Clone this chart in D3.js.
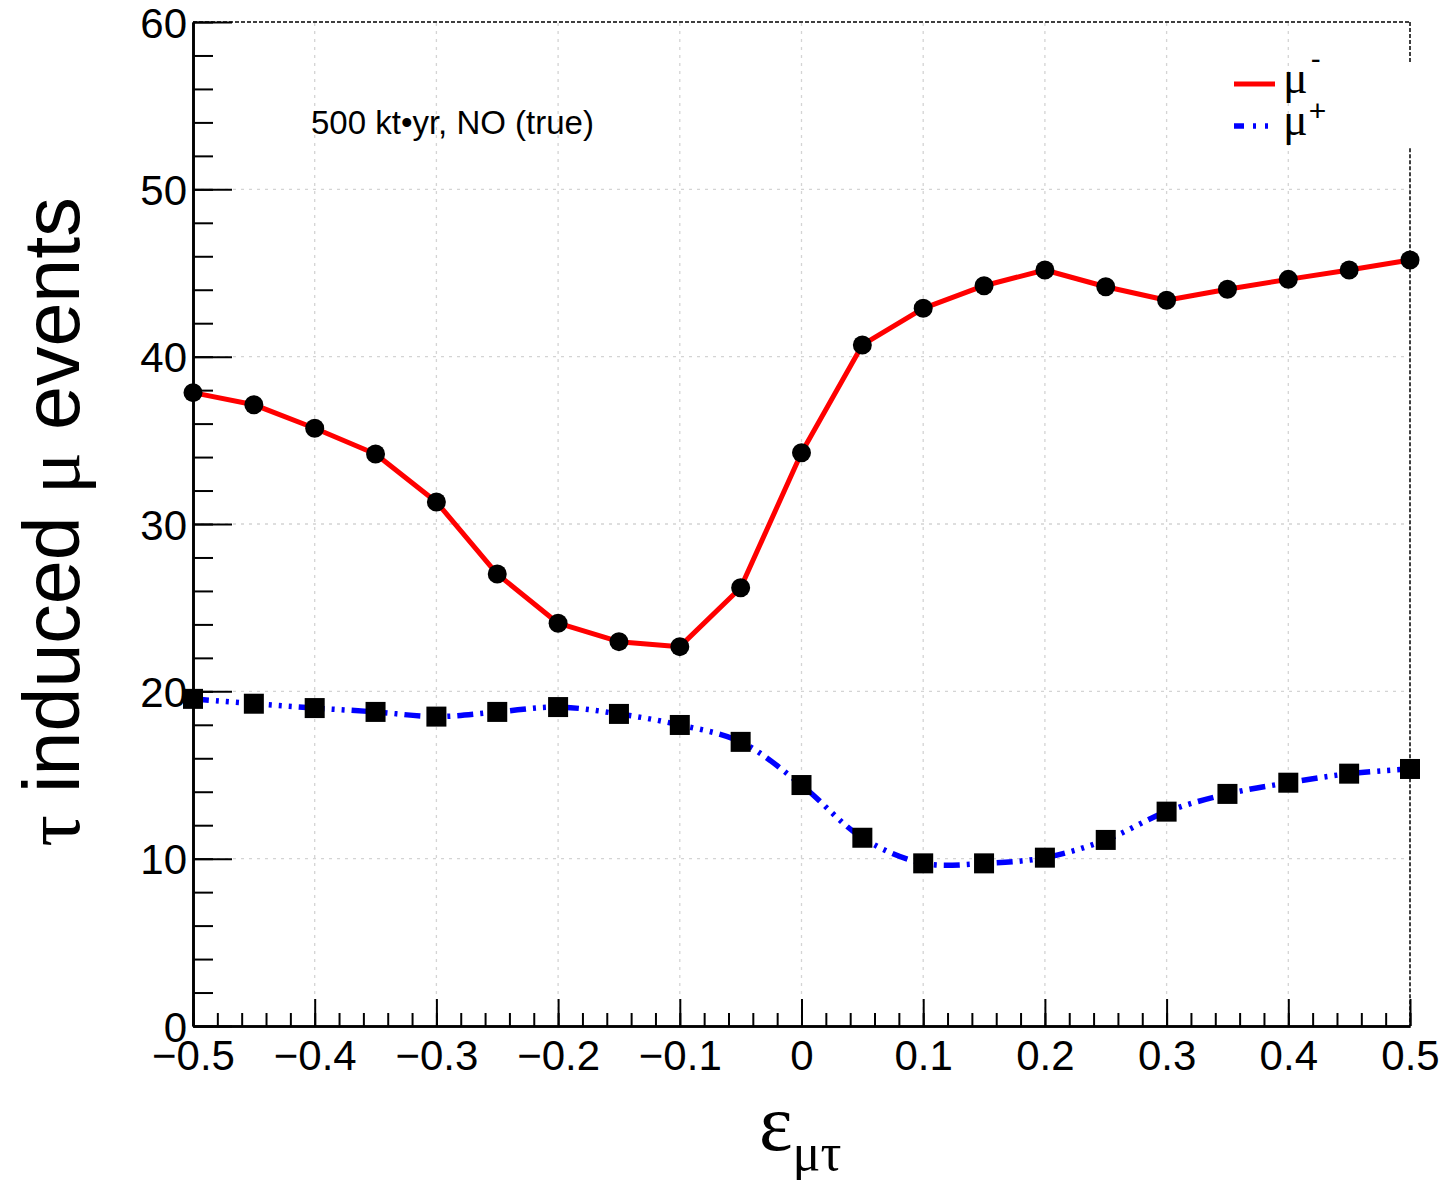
<!DOCTYPE html>
<html>
<head>
<meta charset="utf-8">
<script src="https://cdn.jsdelivr.net/npm/d3@7"></script>
<style>
  html, body { margin: 0; padding: 0; background: #fff; }
  svg { display: block; }
</style>
</head>
<body>
<svg id="chart" width="1447" height="1180"></svg>
<script>
// ---------------- data ----------------
const epsValues = [-0.5, -0.45, -0.4, -0.35, -0.3, -0.25, -0.2, -0.15, -0.1, -0.05, 0,
                   0.05, 0.1, 0.15, 0.2, 0.25, 0.3, 0.35, 0.4, 0.45, 0.5];
const muMinus = [37.85, 37.13, 35.72, 34.18, 31.32, 27.01, 24.07, 22.97, 22.67, 26.19, 34.26,
                 40.70, 42.89, 44.24, 45.18, 44.18, 43.37, 44.03, 44.62, 45.18, 45.78];
const muPlus  = [19.55, 19.26, 19.00, 18.77, 18.49, 18.77, 19.06, 18.65, 17.99, 16.98, 14.40,
                 11.25, 9.72, 9.72, 10.06, 11.12, 12.81, 13.87, 14.54, 15.08, 15.36];
const xTickValues = [-0.5, -0.4, -0.3, -0.2, -0.1, 0, 0.1, 0.2, 0.3, 0.4, 0.5];
const xMinorTickValues = d3.range(-25, 26).map(i => i / 50);
const yTickValues = [0, 10, 20, 30, 40, 50, 60];
const yMinorTickValues = d3.range(0, 61, 2);
const annotation = "500 kt\u2022yr, NO (true)";

// ---------------- layout ----------------
const svg = d3.select("#chart");
const L = 193, R = 1410, T = 22, B = 1026;
const x = d3.scaleLinear().domain([-0.5, 0.5]).range([L, R]);
const y = d3.scaleLinear().domain([0, 60]).range([B, T]);
const sans = "'Liberation Sans', Arial, Helvetica, sans-serif";
const serif = "'Liberation Serif', 'Times New Roman', serif";

// grid
const grid = svg.append("g").attr("stroke", "#d4d4d4").attr("stroke-width", 1.3)
  .attr("stroke-dasharray", "3,5");
grid.selectAll("line.gx").data(xTickValues.slice(1, -1)).join("line")
  .attr("x1", d => x(d)).attr("x2", d => x(d)).attr("y1", y(0)).attr("y2", y(60));
grid.selectAll("line.gy").data(yTickValues.slice(1, -1)).join("line")
  .attr("x1", x(-0.5)).attr("x2", x(0.5)).attr("y1", d => y(d)).attr("y2", d => y(d));

// frame top & right (dashed)
const frame = svg.append("g").attr("stroke", "#000").attr("stroke-width", 1.5)
  .attr("stroke-dasharray", "4,2").attr("fill", "none");
frame.append("line").attr("x1", x(-0.5)).attr("x2", x(0.5)).attr("y1", y(60)).attr("y2", y(60));
frame.append("line").attr("x1", x(0.5)).attr("x2", x(0.5)).attr("y1", y(60)).attr("y2", y(57.55));
frame.append("line").attr("x1", x(0.5)).attr("x2", x(0.5)).attr("y1", y(52.45)).attr("y2", y(0));

// axes
const fmtX = d => Math.abs(d) < 1e-9 ? "0" : d3.format(".1f")(d);
const gxMinor = svg.append("g").attr("transform", `translate(0,${B})`)
  .call(d3.axisBottom(x).tickValues(xMinorTickValues).tickSizeInner(-13).tickSizeOuter(0).tickFormat(""));
const gx = svg.append("g").attr("transform", `translate(0,${B})`)
  .call(d3.axisBottom(x).tickValues(xTickValues).tickSizeInner(-27).tickSizeOuter(0)
    .tickPadding(14).tickFormat(fmtX));
const gyMinor = svg.append("g").attr("transform", `translate(${L},0)`)
  .call(d3.axisLeft(y).tickValues(yMinorTickValues).tickSizeInner(-20).tickSizeOuter(0).tickFormat(""));
const gy = svg.append("g").attr("transform", `translate(${L},0)`)
  .call(d3.axisLeft(y).tickValues(yTickValues).tickSizeInner(-39).tickSizeOuter(0)
    .tickPadding(6).tickFormat(d3.format("d")));
[gxMinor, gx, gyMinor, gy].forEach(g => {
  g.selectAll(".tick line").attr("stroke", "#000").attr("stroke-width", 2);
  g.select(".domain").attr("stroke", "#000").attr("stroke-width", 2.6);
  g.selectAll("text").attr("fill", "#000").attr("font-family", sans).attr("font-size", 42);
});
gy.selectAll("text").attr("dy", "0.36em");

// lines
const lineMinus = d3.line().x((d, i) => x(epsValues[i])).y(d => y(d));
const linePlus = d3.line().x((d, i) => x(epsValues[i])).y(d => y(d)).curve(d3.curveCatmullRom.alpha(0.5));
const dashPlus = "16,7,3,7,3,7,3,7";

svg.append("path").datum(muMinus).attr("d", lineMinus)
  .attr("fill", "none").attr("stroke", "#ff0000").attr("stroke-width", 5).attr("stroke-linejoin", "round");
svg.append("path").datum(muPlus).attr("d", linePlus)
  .attr("fill", "none").attr("stroke", "#0000ff").attr("stroke-width", 5.5)
  .attr("stroke-dasharray", dashPlus);

// markers
svg.append("g").selectAll("circle").data(muMinus).join("circle")
  .attr("cx", (d, i) => x(epsValues[i])).attr("cy", d => y(d)).attr("r", 9.5).attr("fill", "#000");
svg.append("g").selectAll("rect").data(muPlus).join("rect")
  .attr("x", (d, i) => x(epsValues[i]) - 10).attr("y", d => y(d) - 10)
  .attr("width", 20).attr("height", 20).attr("fill", "#000");

// annotation
svg.append("text").attr("x", 311).attr("y", 134).attr("font-family", sans).attr("font-size", 33)
  .attr("fill", "#000").text(annotation);

// legend
const leg = svg.append("g");
leg.append("line").attr("x1", 1234).attr("x2", 1275).attr("y1", 84).attr("y2", 84)
  .attr("stroke", "#ff0000").attr("stroke-width", 5);
leg.append("line").attr("x1", 1234).attr("x2", 1275).attr("y1", 126).attr("y2", 126)
  .attr("stroke", "#0000ff").attr("stroke-width", 5.5).attr("stroke-dasharray", "10,9,3,9,3,9");
const t1 = leg.append("text").attr("x", 1283).attr("y", 93).attr("font-family", serif).attr("font-size", 46).attr("fill", "#000");
t1.append("tspan").text("\u03bc");
t1.append("tspan").attr("font-family", sans).attr("font-size", 30).attr("dx", 3).attr("dy", -24).text("-");
const t2 = leg.append("text").attr("x", 1283).attr("y", 135).attr("font-family", serif).attr("font-size", 46).attr("fill", "#000");
t2.append("tspan").text("\u03bc");
t2.append("tspan").attr("font-family", sans).attr("font-size", 30).attr("dx", 1).attr("dy", -14).text("+");

// axis titles
const yt = svg.append("text").attr("transform", "translate(79,522) rotate(-90)")
  .attr("text-anchor", "middle").attr("font-family", sans).attr("font-size", 79).attr("fill", "#000");
yt.append("tspan").attr("font-family", serif).text("\u03c4");
yt.append("tspan").text(" induced ");
yt.append("tspan").attr("font-family", serif).text("\u03bc");
yt.append("tspan").text(" events");

const xt = svg.append("text").attr("x", 759).attr("y", 1150).attr("font-family", serif)
  .attr("font-size", 80).attr("fill", "#000");
xt.append("tspan").text("\u03b5");
xt.append("tspan").attr("font-size", 52).attr("dy", 20).text("\u03bc\u03c4");
</script>
</body>
</html>
